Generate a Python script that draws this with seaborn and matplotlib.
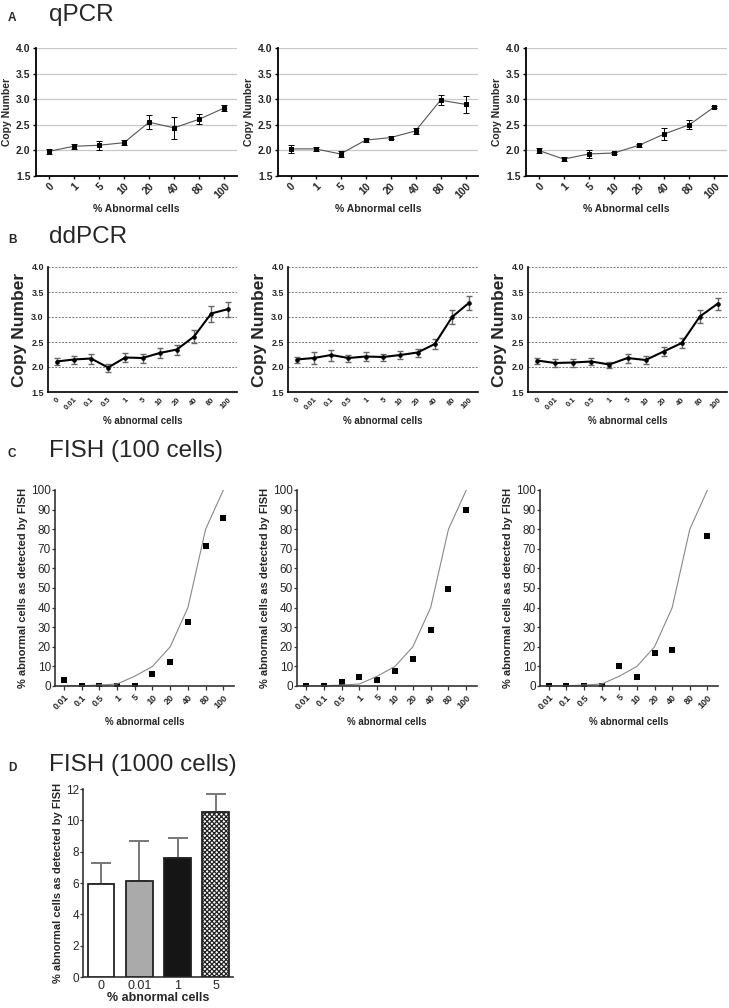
import numpy as np
import pandas as pd
import seaborn as sns
import matplotlib
matplotlib.use("Agg")
import matplotlib.pyplot as plt

sns.set_theme(style="white")
plt.rcParams['font.family'] = ['Liberation Sans', 'DejaVu Sans']
plt.rcParams['hatch.linewidth'] = 0.9

# ---- data ----
qpcr_labels = ["0", "1", "5", "10", "20", "40", "80", "100"]
qpcr_1 = [1.98, 2.08, 2.10, 2.15, 2.55, 2.44, 2.61, 2.83]
qpcr_1_err = [0.05, 0.045, 0.09, 0.045, 0.14, 0.21, 0.095, 0.06]
qpcr_2 = [2.03, 2.03, 1.93, 2.20, 2.25, 2.38, 2.98, 2.90]
qpcr_2_err = [0.08, 0.04, 0.06, 0.035, 0.03, 0.05, 0.10, 0.16]
qpcr_3 = [2.00, 1.83, 1.93, 1.95, 2.10, 2.32, 2.50, 2.85]
qpcr_3_err = [0.05, 0.035, 0.07, 0.02, 0.03, 0.11, 0.09, 0.02]

ddpcr_labels = ["0", "0.01", "0.1", "0.5", "1", "5", "10", "20", "40", "80", "100"]
ddpcr_1 = [2.11, 2.15, 2.17, 1.99, 2.19, 2.18, 2.28, 2.35, 2.61, 3.07, 3.16]
ddpcr_1_err = [0.07, 0.08, 0.10, 0.08, 0.09, 0.09, 0.10, 0.10, 0.13, 0.16, 0.15]
ddpcr_2 = [2.15, 2.18, 2.24, 2.18, 2.21, 2.20, 2.24, 2.29, 2.46, 3.00, 3.29]
ddpcr_2_err = [0.06, 0.12, 0.11, 0.07, 0.09, 0.07, 0.08, 0.08, 0.10, 0.14, 0.14]
ddpcr_3 = [2.13, 2.08, 2.09, 2.11, 2.05, 2.18, 2.14, 2.31, 2.48, 3.01, 3.27]
ddpcr_3_err = [0.06, 0.08, 0.08, 0.07, 0.06, 0.09, 0.08, 0.09, 0.10, 0.13, 0.12]

fish_labels = ["0.01", "0.1", "0.5", "1", "5", "10", "20", "40", "80", "100"]
fish_expected = [0.01, 0.1, 0.5, 1, 5, 10, 20, 40, 80, 100]
fish_1 = [3.1, 0, 0, 0, 0, 6.1, 12.1, 32.5, 71.6, 85.9]
fish_2 = [0, 0, 1.9, 4.8, 3.1, 7.8, 13.6, 28.6, 49.3, 89.8]
fish_3 = [0, 0, 0, 0, 10.4, 4.8, 16.8, 18.2, np.nan, 76.5]

bar_labels = ["0", "0.01", "1", "5"]
bar_vals = [5.95, 6.1, 7.6, 10.55]
bar_err = [1.35, 2.6, 1.3, 1.1]
bar_colors = ["#ffffff", "#aaaaaa", "#151515", "#ffffff"]

W, H = 729, 1008
fig = plt.figure(figsize=(W / 100, H / 100), dpi=100)


def px_axes(left, top, right, bottom):
    return fig.add_axes([left / W, 1 - bottom / H, (right - left) / W, (bottom - top) / H])


def panel_title(letter, title, y):
    fig.text(8 / W, 1 - y / H, letter, fontsize=8.5, fontweight="bold", va="baseline")
    fig.text(49 / W, 1 - y / H, title, fontsize=17.5, va="baseline")


def rot_labels(ax, labels, size):
    ax.set_xticklabels(labels, rotation=45, ha="right", rotation_mode="anchor",
                       fontsize=size, fontweight="bold")


# ---- A: qPCR ----
panel_title("A", "qPCR", 21)
for (l, r), vals, err in zip([(36, 237), (278, 478), (526, 727)],
                             [qpcr_1, qpcr_2, qpcr_3],
                             [qpcr_1_err, qpcr_2_err, qpcr_3_err]):
    ax = px_axes(l, 48, r, 176)
    x = np.arange(len(vals))
    ax.set_yticks([1.5, 2.0, 2.5, 3.0, 3.5, 4.0])
    ax.grid(axis="y", color="#c8c8c8", lw=0.9)
    ax.set_axisbelow(True)
    sns.lineplot(x=x, y=vals, ax=ax, color="#555555", lw=0.8, marker="s",
                 markersize=3, markerfacecolor="black", markeredgecolor="black")
    ax.errorbar(x, vals, yerr=err, fmt="none", ecolor="black", elinewidth=0.7,
                capsize=2, capthick=0.7)
    ax.set_xlim(-0.5, len(vals) - 0.5)
    ax.set_ylim(1.5, 4.0)
    ax.set_xticks(x)
    rot_labels(ax, qpcr_labels, 7.5)
    ax.set_yticklabels(["1.5", "2.0", "2.5", "3.0", "3.5", "4.0"], fontsize=7.5, fontweight="bold")
    ax.set_ylabel("Copy Number", fontsize=7.5, fontweight="bold", labelpad=3)
    ax.set_xlabel("% Abnormal cells", fontsize=7.5, fontweight="bold", labelpad=2)
    sns.despine(ax=ax)
    for s in ["left", "bottom"]:
        ax.spines[s].set_color("black")
        ax.spines[s].set_linewidth(1.3)
    ax.tick_params(axis="both", length=2.5, width=1, color="black", pad=1.5, bottom=True, left=True)

# ---- B: ddPCR ----
panel_title("B", "ddPCR", 243)
for (l, r), vals, err in zip([(48, 237), (288, 478), (528, 727)],
                             [ddpcr_1, ddpcr_2, ddpcr_3],
                             [ddpcr_1_err, ddpcr_2_err, ddpcr_3_err]):
    ax = px_axes(l, 267, r, 392)
    x = np.arange(len(vals))
    ax.set_yticks([1.5, 2.0, 2.5, 3.0, 3.5, 4.0])
    ax.grid(axis="y", color="#777777", lw=0.7, ls=(0, (2, 1.5)))
    ax.set_axisbelow(True)
    ax.errorbar(x, vals, yerr=err, fmt="none", ecolor="#666666", elinewidth=1.0,
                capsize=2, capthick=1.0)
    sns.lineplot(x=x, y=vals, ax=ax, color="black", lw=1.5, marker="o",
                 markersize=2.5, markerfacecolor="black", markeredgecolor="black")
    ax.set_xlim(-0.5, len(vals) - 0.5)
    ax.set_ylim(1.5, 4.0)
    ax.set_xticks(x)
    rot_labels(ax, ddpcr_labels, 5.5)
    ax.set_yticklabels(["1.5", "2.0", "2.5", "3.0", "3.5", "4.0"], fontsize=6.5, fontweight="bold")
    ax.set_ylabel("Copy Number", fontsize=12.5, fontweight="bold", labelpad=3)
    ax.set_xlabel("% abnormal cells", fontsize=7, fontweight="bold", labelpad=3)
    sns.despine(ax=ax)
    for s in ["left", "bottom"]:
        ax.spines[s].set_color("black")
        ax.spines[s].set_linewidth(1.2)
    ax.tick_params(axis="both", length=0, pad=3)

# ---- C: FISH (100 cells) ----
panel_title("C", "FISH (100 cells)", 457)
for (l, r), vals in zip([(55, 234), (297, 477), (540, 718)], [fish_1, fish_2, fish_3]):
    ax = px_axes(l, 490, r, 686)
    x = np.arange(len(vals))
    sns.lineplot(x=x, y=fish_expected, ax=ax, color="#888888", lw=0.8)
    sns.scatterplot(x=x, y=vals, ax=ax, color="black", marker="s", s=22, linewidth=0)
    ax.set_xlim(-0.5, 9.6)
    ax.set_ylim(0, 100)
    ax.set_xticks(x)
    rot_labels(ax, fish_labels, 6.5)
    ax.set_yticks(np.arange(0, 101, 10))
    ax.tick_params(axis="y", labelsize=8.5, length=2.5, width=0.9, color="#333333", pad=0.5, left=True)
    ax.tick_params(axis="x", length=3, width=0.9, color="#333333", pad=2, bottom=True)
    ax.set_ylabel("% abnormal cells as detected by FISH", fontsize=8, fontweight="bold", labelpad=2)
    ax.set_xlabel("% abnormal cells", fontsize=7, fontweight="bold", labelpad=4)
    sns.despine(ax=ax)
    for s in ["left", "bottom"]:
        ax.spines[s].set_color("#333333")
        ax.spines[s].set_linewidth(1.2)

# ---- D: FISH (1000 cells) ----
panel_title("D", "FISH (1000 cells)", 771)
ax = px_axes(83, 789, 233, 977)
df = pd.DataFrame({"pct": bar_labels, "val": bar_vals})
sns.barplot(data=df, x="pct", y="val", hue="pct", palette=bar_colors, legend=False,
            width=0.7, edgecolor="#222222", linewidth=1.3, ax=ax, zorder=3)
ax.patches[3].set_hatch("xxxxxxx")
ax.errorbar(np.arange(len(bar_vals)), bar_vals,
            yerr=[np.zeros(len(bar_err)), bar_err], fmt="none", ecolor="#777777",
            elinewidth=1.4, capsize=7, capthick=1.4, zorder=2)
ax.set_xlim(-0.47, 3.45)
ax.set_ylim(0, 12)
ax.set_yticks(np.arange(0, 13, 2))
ax.tick_params(axis="y", labelsize=8.5, length=2.5, width=0.9, color="#333333", pad=0.5, left=True)
ax.tick_params(axis="x", labelsize=9, length=0, pad=2)
ax.set_ylabel("% abnormal cells as detected by FISH", fontsize=8, fontweight="bold", labelpad=2)
ax.set_xlabel("% abnormal cells", fontsize=9, fontweight="bold", labelpad=0)
sns.despine(ax=ax)
for s in ["left", "bottom"]:
    ax.spines[s].set_color("#333333")
    ax.spines[s].set_linewidth(1.2)

fig.savefig("out.png", dpi=100)
